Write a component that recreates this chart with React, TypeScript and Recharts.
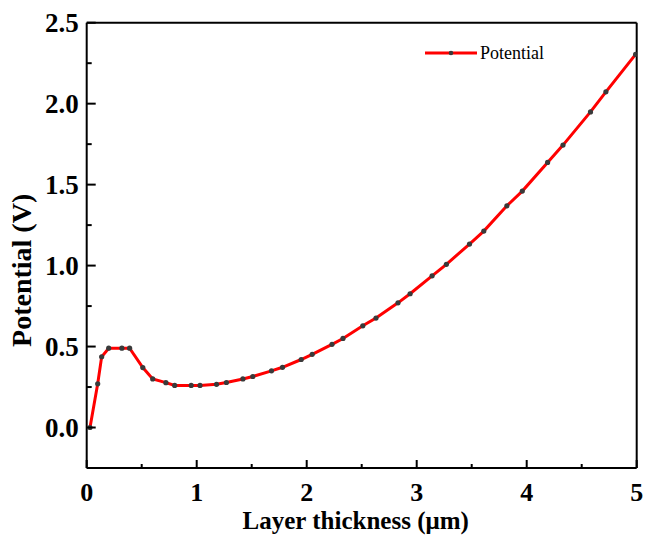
import React from 'react';
import { LineChart, Line, XAxis, YAxis, ReferenceLine } from 'recharts';

const thickness = [0.03, 0.10, 0.136, 0.20, 0.32, 0.39, 0.51, 0.60, 0.72, 0.80, 0.95, 1.03, 1.18, 1.27, 1.42, 1.51, 1.68, 1.78, 1.95, 2.05, 2.23, 2.33, 2.51, 2.63, 2.83, 2.94, 3.14, 3.27, 3.48, 3.61, 3.82, 3.96, 4.19, 4.33, 4.58, 4.72, 4.99];
const potential = [0.0, 0.27, 0.437, 0.49, 0.49, 0.49, 0.37, 0.30, 0.277, 0.26, 0.26, 0.26, 0.267, 0.278, 0.30, 0.315, 0.35, 0.372, 0.42, 0.452, 0.514, 0.55, 0.628, 0.676, 0.77, 0.826, 0.937, 1.008, 1.133, 1.213, 1.369, 1.46, 1.637, 1.744, 1.949, 2.073, 2.304];
const xTicks = [0, 0.5, 1, 1.5, 2, 2.5, 3, 3.5, 4, 4.5, 5];
const yTicks = [-0.25, 0, 0.25, 0.5, 0.75, 1, 1.25, 1.5, 1.75, 2, 2.25, 2.5];

const data = thickness.map((t, i) => ({ x: t, y: potential[i] }));

const FONT = '"Liberation Serif", "Times New Roman", serif';

const isMajor = (v: number, step: number) => Math.abs(v / step - Math.round(v / step)) < 1e-9;

const XTick = (props: any) => {
  const { x, y, payload } = props;
  const major = isMajor(payload.value, 1);
  return (
    <g>
      <line x1={x} x2={x} y1={y} y2={y - (major ? 8 : 4)} stroke="#000" strokeWidth={2} />
      {major && (
        <text x={x} y={y + 24} textAnchor="middle" dominantBaseline="central" fontFamily={FONT} fontWeight="bold" fontSize={26} fill="#000">
          {payload.value}
        </text>
      )}
    </g>
  );
};

const YTick = (props: any) => {
  const { x, y, payload } = props;
  const major = isMajor(payload.value, 0.5);
  return (
    <g>
      <line x1={x} x2={x + (major ? 9 : 5)} y1={y} y2={y} stroke="#000" strokeWidth={2} />
      {major && (
        <text x={x - 8} y={y} textAnchor="end" dominantBaseline="central" fontFamily={FONT} fontWeight="bold" fontSize={27} fill="#000">
          {payload.value.toFixed(1)}
        </text>
      )}
    </g>
  );
};

export default function App() {
  return (
    <div style={{ position: 'absolute', left: 0, top: 0, width: 646, height: 536, background: '#fff' }}>
      <LineChart width={646} height={536} data={data} margin={{ top: 22.7, right: 9.3, bottom: 0, left: 0 }}>
        <XAxis
          dataKey="x"
          type="number"
          domain={[0, 5]}
          ticks={xTicks}
          interval={0}
          allowDataOverflow
          height={68}
          tickSize={0}
          tickMargin={0}
          tickLine={false}
          axisLine={{ stroke: '#000', strokeWidth: 2 }}
          tick={<XTick />}
          label={{
            content: (p: any) => {
              const vb = p.viewBox;
              return (
                <text x={vb.x + vb.width / 2 - 6} y={520} textAnchor="middle" dominantBaseline="central" fontFamily={FONT} fontWeight="bold" fontSize={25} fill="#000">
                  Layer thickness (μm)
                </text>
              );
            },
          }}
        />
        <YAxis
          type="number"
          domain={[-0.25, 2.5]}
          ticks={yTicks}
          interval={0}
          allowDataOverflow
          width={86.7}
          tickSize={0}
          tickMargin={0}
          tickLine={false}
          axisLine={{ stroke: '#000', strokeWidth: 2 }}
          tick={<YTick />}
          label={{
            content: (p: any) => {
              const vb = p.viewBox;
              const cy = vb.y + vb.height / 2 + 25;
              return (
                <text x={22} y={cy} transform={`rotate(-90, 22, ${cy})`} textAnchor="middle" dominantBaseline="central" fontFamily={FONT} fontWeight="bold" fontSize={28} fill="#000">
                  Potential (V)
                </text>
              );
            },
          }}
        />
        <ReferenceLine y={2.5} stroke="#000" strokeWidth={2} ifOverflow="extendDomain" />
        <ReferenceLine x={5} stroke="#000" strokeWidth={2} ifOverflow="extendDomain" />
        <Line
          type="linear"
          dataKey="y"
          stroke="#ff0000"
          strokeWidth={3}
          dot={{ r: 2.6, fill: '#3a3a3a', stroke: 'none' }}
          isAnimationActive={false}
        />
      </LineChart>
      <div style={{ position: 'absolute', left: 424, top: 41, display: 'flex', alignItems: 'center', fontFamily: FONT, fontSize: 18, color: '#000', lineHeight: '24px' }}>
        <svg width={56} height={10}>
          <line x1={1} x2={53} y1={5} y2={5} stroke="#ff0000" strokeWidth={3} />
          <circle cx={27} cy={5} r={2.3} fill="#3a3a3a" />
        </svg>
        <span>Potential</span>
      </div>
    </div>
  );
}
